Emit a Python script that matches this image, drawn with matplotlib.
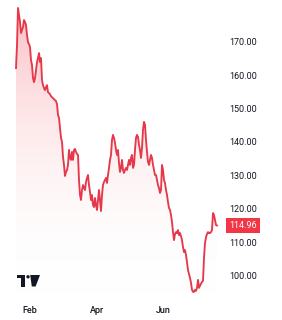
import numpy as np
import matplotlib
matplotlib.use("Agg")
import matplotlib.pyplot as plt
from matplotlib.patches import Polygon, Rectangle, Ellipse
from matplotlib.colors import LinearSegmentedColormap

plt.rcParams['font.family'] = ['Roboto', 'DejaVu Sans']

# ---- data (daily closes) ----
prices = [
    162.1, 169.0, 180.1, 178.0, 175.9, 172.6, 173.5, 174.4, 176.5, 175.9,
    175.0, 172.0, 169.9, 169.3, 168.4, 164.5, 163.0, 159.1, 157.9, 159.1,
    161.5, 163.9, 165.1, 166.6, 163.9, 165.1, 158.5, 157.0, 156.1, 155.5,
    156.4, 157.0, 154.9, 154.6, 154.3, 153.7, 153.4, 153.1, 152.8, 152.5,
    152.2, 151.3, 148.1, 147.2, 144.2, 141.2, 140.0, 135.5, 133.1, 129.8,
    131.0, 131.6, 133.1, 137.6, 135.2, 134.6, 137.0, 134.6, 137.6, 137.9,
    137.0, 136.4, 136.1, 128.6, 124.1, 122.6, 125.6, 127.1, 126.2, 125.6,
    128.0, 129.2, 130.1, 127.1, 125.0, 122.6, 124.1, 121.1, 120.5, 123.2,
    121.1, 119.6, 122.6, 125.6, 122.6, 119.3, 124.1, 127.1, 128.0, 128.6,
    129.2, 127.7, 130.1, 132.2, 134.6, 136.1, 140.6, 142.1, 141.2, 139.7,
    137.6, 136.1, 137.6, 133.7, 131.0, 132.2, 134.6, 131.6, 130.7, 131.6,
    132.2, 131.6, 133.1, 134.6, 133.1, 135.2, 136.1, 132.2, 133.1, 137.6,
    141.2, 142.1, 141.5, 139.1, 137.6, 135.2, 138.2, 143.6, 146.0, 145.1,
    140.6, 137.0, 134.0, 133.1, 134.6, 136.1, 135.2, 133.1, 131.6, 130.1,
    130.1, 128.6, 127.1, 126.2, 124.7, 125.6, 133.1, 131.6, 128.6, 127.7,
    125.6, 124.1, 122.0, 120.2, 119.6, 118.1, 116.0, 113.0, 110.6, 112.4,
    113.0, 112.7, 113.6, 112.1, 112.7, 111.8, 110.6, 108.5, 107.0, 107.6,
    106.1, 104.0, 101.6, 100.5, 99.3, 97.8, 95.7, 95.1, 95.1, 95.7,
    95.4, 96.3, 98.7, 96.3, 96.9, 97.5, 98.1, 98.4, 105.3, 109.7,
    111.5, 112.4, 113.0, 112.7, 112.7, 113.0, 113.6, 118.7, 118.1, 116.6,
    115.1, 114.96,
]
last_price = 114.96
month_labels = ["Feb", "Apr", "Jun"]
month_positions = [13.5, 80.5, 147.5]
y_ticks = [100, 110, 120, 130, 140, 150, 160, 170]

LINE = '#e5394b'
TEXT = '#131722'

W, H = 282, 320
fig = plt.figure(figsize=(W / 100, H / 100), dpi=100)
fig.patch.set_facecolor('white')
ax_bottom_px = 297
ax_right_px = 225
ax = fig.add_axes([0, 1 - ax_bottom_px / H, ax_right_px / W, ax_bottom_px / H])
ax.set_facecolor('white')

x = np.arange(len(prices))
y = np.array(prices)
ymin, ymax = 93.56, 182.49
ax.set_xlim(-16, 209)
ax.set_ylim(ymin, ymax)

# gradient fill under the line
poly = ax.fill_between(x, y, ymin, color='none', lw=0)
grad = np.linspace(0, 1, 256).reshape(-1, 1)
cmap = LinearSegmentedColormap.from_list(
    'g', [(1, 1, 1, 0), (0.95, 0.21, 0.27, 0.32)])
top = y.max()
im = ax.imshow(grad, aspect='auto', cmap=cmap, origin='lower',
               extent=[x[0], x[-1], ymin, top], zorder=1)
path = poly.get_paths()[0]
im.set_clip_path(path, transform=ax.transData)

ax.plot(x, y, color=LINE, lw=1.35, zorder=3, solid_joinstyle='round')

for s in ax.spines.values():
    s.set_visible(False)

ax.yaxis.tick_right()
ax.set_yticks(y_ticks)
ax.set_yticklabels([f"{v:.2f}" for v in y_ticks])
ax.tick_params(axis='y', length=0, pad=2.9, labelsize=6.5, labelcolor=TEXT)
ax.set_xticks(month_positions)
ax.set_xticklabels(month_labels, fontweight='medium')
ax.tick_params(axis='x', length=0, pad=6.3, labelsize=6.5, labelcolor=TEXT)

# last price tag
ax.annotate(f"{last_price:.2f}", xy=(229 / ax_right_px, last_price),
            xycoords=('axes fraction', 'data'), ha='left', va='center',
            fontsize=6.5, color='white', annotation_clip=False,
            bbox=dict(boxstyle='square,pad=0.38', fc='#f23645', ec='none'))

# TradingView logo (decoration)
def px(xp, yp):
    return (xp / W, 1 - yp / H)

fig.patches.append(Rectangle(px(17.3, 278.3), 7.7 / W, 3.3 / H,
                             transform=fig.transFigure, fc='#131722', ec='none'))
fig.patches.append(Rectangle(px(20.7, 286.5), 4.3 / W, 8.2 / H,
                             transform=fig.transFigure, fc='#131722', ec='none'))
fig.patches.append(Ellipse(px(28.0, 276.8), 3.4 / W, 3.4 / H,
                           transform=fig.transFigure, fc='#131722', ec='none'))
fig.patches.append(Polygon([px(30.2, 275), px(40.0, 275), px(35.6, 286.5), px(31.8, 286.5)],
                           closed=True, transform=fig.transFigure, fc='#131722', ec='none'))

fig.savefig('out.png', dpi=100, facecolor='white')
